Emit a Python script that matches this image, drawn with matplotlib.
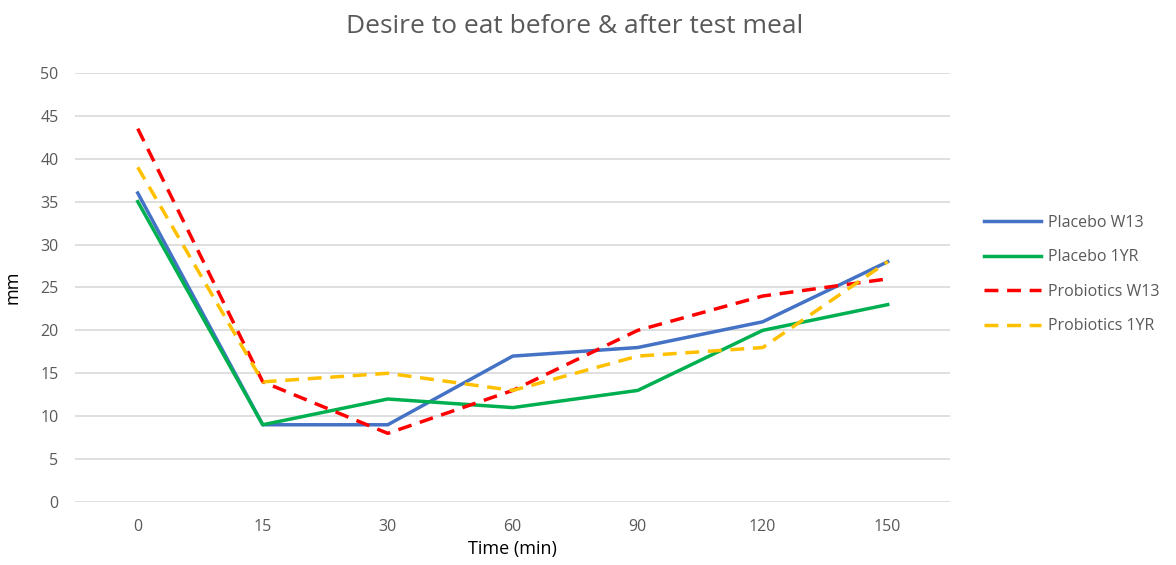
import matplotlib
matplotlib.use('agg')
import matplotlib.pyplot as plt

# DATA ###############################################################

times = ['0', '15', '30', '60', '90', '120', '150']
placebo_w13 = [36, 9, 9, 17, 18, 21, 28]
placebo_1yr = [35, 9, 12, 11, 13, 20, 23]
probiotics_w13 = [43.5, 14, 8, 13, 20, 24, 26]
probiotics_1yr = [39, 14, 15, 13, 17, 18, 28]

# PLOT ###############################################################

plt.rcParams['font.family'] = ['Open Sans', 'DejaVu Sans']

fig = plt.figure(figsize=(11.76, 5.65), dpi=100)
ax = fig.add_axes([0.064, 0.1115, 0.744, 0.7595])

x = list(range(len(times)))
ax.plot(x, placebo_w13, color='#4472C4', lw=2.5, label='Placebo W13')
ax.plot(x, placebo_1yr, color='#00B050', lw=2.5, label='Placebo 1YR')
ax.plot(x, probiotics_w13, color='#FF0000', lw=2.5, dashes=(4, 2.5), label='Probiotics W13')
ax.plot(x, probiotics_1yr, color='#FFC000', lw=2.5, dashes=(4, 2.5), label='Probiotics 1YR')

ax.set_xlim(-0.5, len(times) - 0.5)
ax.set_ylim(0, 50)
ax.set_yticks(range(0, 51, 5))
ax.set_xticks(x)
ax.set_xticklabels(times)
ax.grid(axis='y', color='#d9d9d9', lw=1.2)
ax.set_axisbelow(True)
for s in ax.spines.values():
    s.set_visible(False)
ax.tick_params(length=0, colors='#595959', labelsize=11.5, pad=12)

fig.suptitle('Desire to eat before & after test meal', x=0.489, y=0.975,
             fontsize=19, color='#595959')
ax.set_xlabel('Time (min)', fontsize=13, color='black', labelpad=4)
ax.set_ylabel('mm', fontsize=13, color='black')
ax.yaxis.set_label_coords(-0.062, 0.5)

ax.legend(loc='center left', bbox_to_anchor=(1.022, 0.53), frameon=False,
          fontsize=11.5, labelcolor='#595959', handlelength=3.6,
          handletextpad=0.4, labelspacing=1.15)

plt.savefig('out.png')
